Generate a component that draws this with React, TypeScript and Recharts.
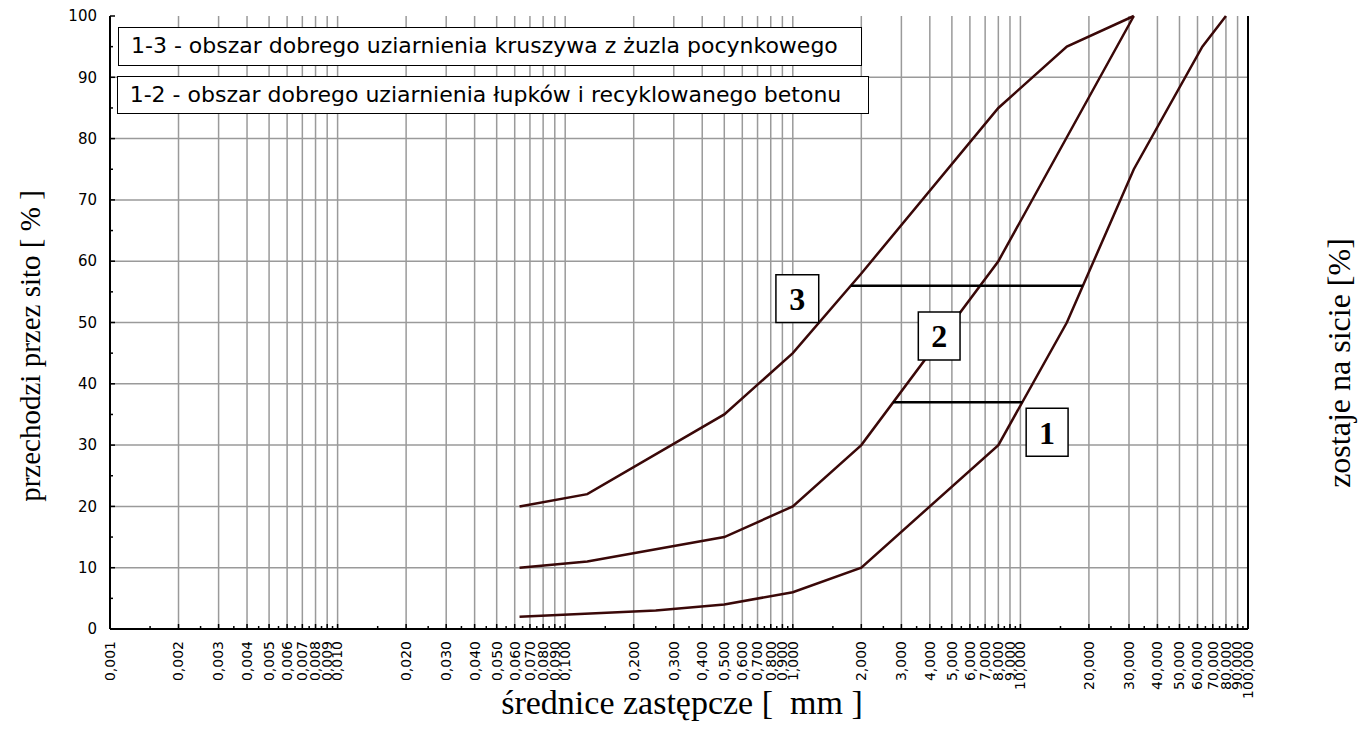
import { LineChart, Line, XAxis, YAxis, CartesianGrid, ReferenceArea } from 'recharts';

// sieve size [mm] vs. passing [%] for the three limit curves
const curve1Sizes = [0.063, 0.25, 0.5, 1, 2, 8, 16, 31.5, 63, 80];
const curve1Pass = [2, 3, 4, 6, 10, 30, 50, 75, 95, 100];
const curve2Sizes = [0.063, 0.125, 0.5, 1, 2, 8, 31.5];
const curve2Pass = [10, 11, 15, 20, 30, 60, 100];
const curve3Sizes = [0.063, 0.125, 0.5, 1, 2, 8, 16, 31.5];
const curve3Pass = [20, 22, 35, 45, 58, 85, 95, 100];

// horizontal bars joining the curves
const bar13Sizes = [1.8, 18.8];
const bar13Pass = 56;
const bar12Sizes = [2.76, 10.2];
const bar12Pass = 37;

// numbered curve tags, given as size range and passing range
const tagNames = ['1', '2', '3'];
const tagSizes = [[10.6, 16.2], [3.56, 5.43], [0.843, 1.3]];
const tagPass = [[28.2, 36], [43.9, 51.7], [50, 57.8]];

const zoneNotes = [
  '1-3 - obszar dobrego uziarnienia kruszywa z żuzla pocynkowego',
  '1-2 - obszar dobrego uziarnienia łupków i recyklowanego betonu',
];

const decades = [0.001, 0.01, 0.1, 1, 10];
const steps = [1, 2, 3, 4, 5, 6, 7, 8, 9];
const majorTicks = [...decades.flatMap((d) => steps.map((m) => +(m * d).toPrecision(6))), 100];
const halfTicks = decades.flatMap((d) => steps.map((m) => +((m + 0.5) * d).toPrecision(6)));
const sizeTicks = [...majorTicks, ...halfTicks].sort((a, b) => a - b);
const majorSet = new Set(majorTicks);
const gridSizes = majorTicks.filter((v) => v > 0.001 && v < 100);

const passTicks = [0, 5, 10, 15, 20, 25, 30, 35, 40, 45, 50, 55, 60, 65, 70, 75, 80, 85, 90, 95, 100];
const gridPass = [10, 20, 30, 40, 50, 60, 70, 80, 90];

const toRows = (sizes: number[], pass: number[]) => sizes.map((d, i) => ({ d, p: pass[i] }));
const fmtSize = (v: number) => v.toFixed(3).replace('.', ',');

const SANS = 'DejaVu Sans, Verdana, sans-serif';
const SERIF = 'Liberation Serif, Times New Roman, serif';
const CURVE = '#3a0808';

const BottomTick = ({ x, y, payload }: any) => {
  const v = payload.value;
  const major = majorSet.has(v);
  const ty = y + 12;
  return (
    <g>
      <line x1={x} x2={x} y1={y} y2={y - (major ? 5 : 3)} stroke="#000" strokeWidth={1.5} />
      {major && (
        <text x={x} y={ty} transform={`rotate(-90 ${x} ${ty})`} textAnchor="end" dy="0.35em"
          fontSize={14} fontFamily={SANS} fill="#000">
          {fmtSize(v)}
        </text>
      )}
    </g>
  );
};

const TopTick = ({ x, y, payload }: any) => {
  const major = majorSet.has(payload.value);
  return <line x1={x} x2={x} y1={y} y2={y + (major ? 5 : 3)} stroke="#000" strokeWidth={1.5} />;
};

const LeftTick = ({ x, y, payload }: any) => {
  const v = payload.value;
  const major = v % 10 === 0;
  return (
    <g>
      <line x1={x} x2={x + (major ? 5 : 3)} y1={y} y2={y} stroke="#000" strokeWidth={1.5} />
      {major && (
        <text x={x - 13} y={y} dy="0.35em" textAnchor="end" fontSize={15} fontFamily={SANS} fill="#000">
          {v}
        </text>
      )}
    </g>
  );
};

const RightTick = ({ x, y, payload }: any) => {
  const v = payload.value;
  const major = v % 10 === 0;
  return (
    <g>
      <line x1={x} x2={x - (major ? 5 : 3)} y1={y} y2={y} stroke="#000" strokeWidth={1.5} />
      {major && (
        <text x={x + 14} y={y} dy="0.35em" textAnchor="start" fontSize={15} fontFamily={SANS} fill="#000">
          {v}
        </text>
      )}
    </g>
  );
};

const noteBox = (top: number, left: number, width: number, height: number) => ({
  position: 'absolute' as const,
  top,
  left,
  width,
  height,
  boxSizing: 'border-box' as const,
  border: '1.5px solid #000',
  background: '#fff',
  paddingLeft: 12,
  fontFamily: SANS,
  fontSize: 22,
  lineHeight: `${height - 3}px`,
  whiteSpace: 'nowrap' as const,
  overflow: 'hidden',
  color: '#000',
});

export default function App() {
  const W = 1351;
  const H = 735;
  return (
    <div style={{ position: 'relative', width: W, height: H }}>
      <LineChart width={W} height={H} margin={{ top: 8, right: 0, bottom: 0, left: 0 }}>
        <CartesianGrid xAxisId="d" yAxisId="p" stroke="#9a9a9a" strokeWidth={1.5}
          verticalValues={gridSizes} horizontalValues={gridPass} />
        <XAxis xAxisId="d" dataKey="d" type="number" scale="log" domain={[0.001, 100]}
          ticks={sizeTicks} interval={0} tickSize={0} tickMargin={0} tickLine={false}
          tick={<BottomTick />} height={114} axisLine={{ stroke: '#000', strokeWidth: 2 }} allowDataOverflow />
        <XAxis xAxisId="top" orientation="top" dataKey="d" type="number" scale="log" domain={[0.001, 100]}
          ticks={sizeTicks} interval={0} tickSize={0} tickMargin={0} tickLine={false}
          tick={<TopTick />} height={0} axisLine={{ stroke: '#000', strokeWidth: 2 }} allowDataOverflow />
        <YAxis yAxisId="p" type="number" domain={[0, 100]} ticks={passTicks} interval={0}
          tickSize={0} tickMargin={0} tickLine={false} tick={<LeftTick />} width={102}
          axisLine={{ stroke: '#000', strokeWidth: 2 }} />
        <YAxis yAxisId="r" orientation="right" type="number" domain={[0, 100]} reversed ticks={passTicks}
          interval={0} tickSize={0} tickMargin={0} tickLine={false} tick={<RightTick />} width={111}
          axisLine={{ stroke: '#000', strokeWidth: 2 }} />

        <Line xAxisId="d" yAxisId="p" data={toRows(curve1Sizes, curve1Pass)} dataKey="p" type="linear"
          stroke={CURVE} strokeWidth={2.5} dot={false} isAnimationActive={false} />
        <Line xAxisId="d" yAxisId="p" data={toRows(curve2Sizes, curve2Pass)} dataKey="p" type="linear"
          stroke={CURVE} strokeWidth={2.5} dot={false} isAnimationActive={false} />
        <Line xAxisId="d" yAxisId="p" data={toRows(curve3Sizes, curve3Pass)} dataKey="p" type="linear"
          stroke={CURVE} strokeWidth={2.5} dot={false} isAnimationActive={false} />
        <Line xAxisId="d" yAxisId="p" data={bar13Sizes.map((d) => ({ d, p: bar13Pass }))} dataKey="p"
          stroke="#000" strokeWidth={2.5} dot={false} isAnimationActive={false} />
        <Line xAxisId="d" yAxisId="p" data={bar12Sizes.map((d) => ({ d, p: bar12Pass }))} dataKey="p"
          stroke="#000" strokeWidth={2.5} dot={false} isAnimationActive={false} />

        {tagNames.map((name, i) => (
          <ReferenceArea key={name} xAxisId="d" yAxisId="p" x1={tagSizes[i][0]} x2={tagSizes[i][1]}
            y1={tagPass[i][0]} y2={tagPass[i][1]} fill="#fff" fillOpacity={1} stroke="#000" strokeWidth={1.5}
            zIndex={1000}
            label={{ value: name, position: 'center', fontFamily: SERIF, fontWeight: 'bold', fontSize: 32, fill: '#000' }} />
        ))}

        <text x={32} y={338} transform="rotate(-90 32 338)" textAnchor="middle" fontFamily={SERIF}
          fontSize={29} fill="#000" style={{ whiteSpace: 'pre' }}>
          przechodzi przez sito [ % ]
        </text>
        <text x={1342} y={355} transform="rotate(-90 1342 355)" textAnchor="middle" fontFamily={SERIF}
          fontSize={32} fill="#000">
          zostaje na sicie [%]
        </text>
        <text x={674} y={706} textAnchor="middle" fontFamily={SERIF} fontSize={34} fill="#000"
          style={{ whiteSpace: 'pre' }}>
          {'średnice zastępcze [  mm ]'}
        </text>
      </LineChart>
      <div style={noteBox(18.7, 110, 744, 39)}>{zoneNotes[0]}</div>
      <div style={noteBox(68, 108.7, 752, 38)}>{zoneNotes[1]}</div>
    </div>
  );
}
